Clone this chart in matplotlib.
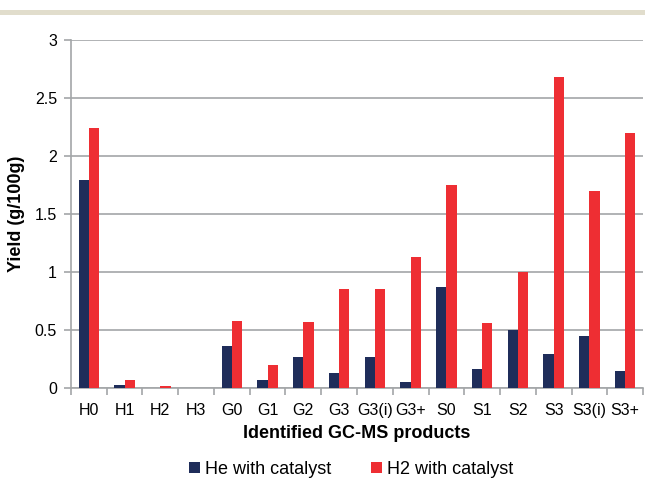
import numpy as np
import matplotlib.pyplot as plt
import matplotlib as mpl
from matplotlib.patches import Rectangle

NAVY = "#1f2d5a"
RED = "#ee2e33"
GRID = "#a3a6a8"

products = ["H0", "H1", "H2", "H3", "G0", "G1", "G2", "G3", "G3(i)", "G3+",
            "S0", "S1", "S2", "S3", "S3(i)", "S3+"]
he_cat = [1.79, 0.03, 0.0, 0.0, 0.36, 0.07, 0.27, 0.13, 0.27, 0.05,
          0.87, 0.16, 0.50, 0.29, 0.45, 0.15]
h2_cat = [2.24, 0.07, 0.02, 0.0, 0.58, 0.20, 0.57, 0.85, 0.85, 1.13,
          1.75, 0.56, 1.00, 2.68, 1.70, 2.20]

mpl.rcParams.update({
    "font.family": ["Liberation Sans", "DejaVu Sans"],
    "font.size": 11.5,
})

fig = plt.figure(figsize=(6.45, 4.8), dpi=100)
ax = fig.add_axes([0.110, 0.1917, 0.887, 0.725])

# beige band at the top of the page
fig.patches.append(Rectangle((0, 0.968), 1, 0.011, transform=fig.transFigure,
                             facecolor="#e1ddcc", edgecolor="none"))

x = np.arange(len(products))
w = 0.285
ax.bar(x - w / 2, he_cat, width=w, color=NAVY, label="He with catalyst", zorder=3)
ax.bar(x + w / 2, h2_cat, width=w, color=RED, label="H2 with catalyst", zorder=3)

ax.set_xlim(-0.5, len(products) - 0.5)
ax.set_ylim(0, 3)
ax.set_yticks([0, 0.5, 1, 1.5, 2, 2.5, 3])
ax.set_yticklabels(["0", "0.5", "1", "1.5", "2", "2.5", "3"])
ax.yaxis.grid(True, color=GRID, linewidth=1.2, zorder=0)
ax.set_axisbelow(True)

ax.set_xticks(x)
ax.set_xticklabels(products)
ax.tick_params(axis="x", length=0, pad=11)
ax.set_xticks(np.arange(-0.5, len(products)), minor=True)
ax.tick_params(axis="x", which="minor", length=5, color=GRID, width=1.2)
ax.tick_params(axis="y", length=5, color=GRID, width=1.2, pad=5)

for s in ["top", "right"]:
    ax.spines[s].set_visible(False)
for s in ["left", "bottom"]:
    ax.spines[s].set_color(GRID)
    ax.spines[s].set_linewidth(1.2)

ax.set_ylabel("Yield (g/100g)", fontweight="bold", fontsize=13, labelpad=7)
ax.set_xlabel("Identified GC-MS products", fontweight="bold", fontsize=13,
              labelpad=5)

ax.legend(loc="upper center", bbox_to_anchor=(0.49, -0.162), ncol=2,
          frameon=False, fontsize=13, handlelength=0.6, handleheight=0.6,
          columnspacing=2.2, handletextpad=0.3)

fig.savefig("out.png", dpi=100)
